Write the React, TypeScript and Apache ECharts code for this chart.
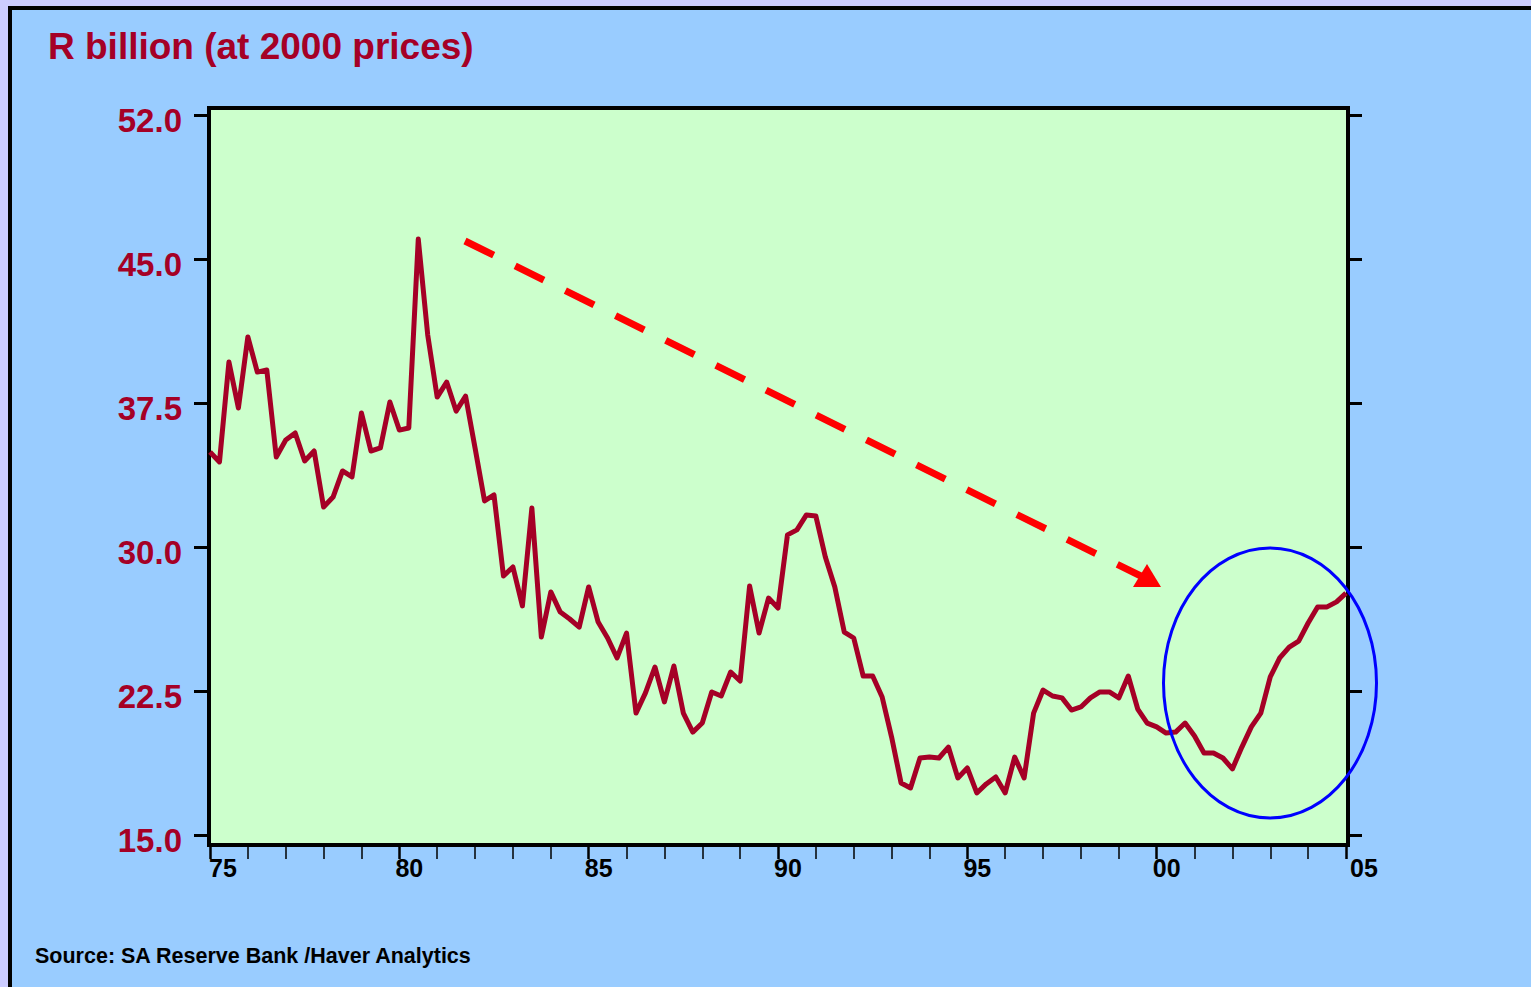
import React, { useEffect, useRef } from 'react';
import * as echarts from 'echarts';

const startYear = 1975;
const quarterStep = 0.25;
// Quarterly values, 1975Q1 .. 2005Q1 (R billion at 2000 prices)
const investment = [
  34.95, 34.43, 39.64, 37.24, 40.94, 39.11, 39.22, 34.69, 35.57, 35.94,
  34.48, 35.0, 32.08, 32.6, 33.96, 33.65, 36.98, 35.0, 35.16, 37.55,
  36.09, 36.2, 46.04, 41.04, 37.81, 38.59, 37.08, 37.86, 35.16, 32.4,
  32.71, 28.49, 28.96, 26.93, 32.03, 25.31, 27.66, 26.61, 26.25, 25.83,
  27.92, 26.09, 25.26, 24.22, 25.52, 21.35, 22.4, 23.75, 21.93, 23.8,
  21.35, 20.36, 20.83, 22.45, 22.24, 23.49, 23.02, 27.97, 25.52, 27.34,
  26.82, 30.63, 30.89, 31.67, 31.61, 29.48, 27.92, 25.57, 25.26, 23.28,
  23.28, 22.19, 20.1, 17.71, 17.45, 19.01, 19.06, 19.01, 19.58, 17.97,
  18.49, 17.19, 17.66, 18.02, 17.19, 19.06, 17.97, 21.35, 22.55, 22.24,
  22.14, 21.51, 21.67, 22.14, 22.45, 22.45, 22.14, 23.28, 21.56, 20.83,
  20.63, 20.31, 20.36, 20.83, 20.16, 19.27, 19.27, 19.01, 18.44, 19.58,
  20.63, 21.35, 23.23, 24.22, 24.79, 25.1, 26.04, 26.88, 26.88, 27.14,
  27.6,
];

const yTickValues = [15, 22.5, 30, 37.5, 45, 52.5];
const yTickLabels = ['15.0', '22.5', '30.0', '37.5', '45.0', '52.0'];
const xTickYears = [1975, 1980, 1985, 1990, 1995, 2000, 2005];
const xTickLabels = ['75', '80', '85', '90', '95', '00', '05'];
const titleText = 'R billion (at 2000 prices)';
const sourceText = 'Source: SA Reserve Bank /Haver Analytics';

const FONT = '"Liberation Sans", Arial, Helvetica, sans-serif';
const CRIMSON = '#a50026';

export default function App() {
  const ref = useRef<HTMLDivElement>(null);
  useEffect(() => {
    const chart = echarts.init(ref.current!, null, { renderer: 'svg' });
    const data = investment.map((v, i) => [startYear + i * quarterStep, v]);

    const yFmt = (v: number) => {
      const k = yTickValues.findIndex((t) => Math.abs(t - v) < 1e-6);
      return k >= 0 ? yTickLabels[k] : '';
    };
    const xFmt = (v: number) => {
      const k = xTickYears.findIndex((t) => Math.abs(t - v) < 1e-6);
      if (k < 0) return '';
      if (k === 0) return '{first|' + xTickLabels[k] + '}';
      if (k === xTickYears.length - 1) return '{last|' + xTickLabels[k] + '}';
      return '{mid|' + xTickLabels[k] + '}';
    };

    const xRich = {
      fontSize: 25,
      fontWeight: 'bold',
      color: '#000',
      fontFamily: FONT,
    };

    const yAxisBase = {
      type: 'value',
      min: yTickValues[0],
      max: yTickValues[yTickValues.length - 1],
      interval: 7.5,
      axisLine: { show: false },
      axisTick: { show: true, length: 16, lineStyle: { color: '#000', width: 3 } },
      splitLine: { show: false },
    };

    chart.setOption({
      animation: false,
      backgroundColor: '#ccccff',
      grid: { left: 210, right: 185, top: 115, bottom: 152, containLabel: false },
      xAxis: {
        type: 'value',
        min: 1975,
        max: 2005,
        interval: 5,
        offset: 10,
        axisLine: { show: false },
        axisTick: { show: true, length: 14, lineStyle: { color: '#000', width: 2.5 } },
        minorTick: { show: true, splitNumber: 5, length: 14, lineStyle: { color: '#000', width: 1.5 } },
        splitLine: { show: false },
        minorSplitLine: { show: false },
        axisLabel: {
          formatter: xFmt,
          margin: 10,
          fontSize: 25,
          fontWeight: 'bold',
          color: '#000',
          fontFamily: FONT,
          rich: {
            first: { ...xRich, padding: [0, 0, 0, 26] },
            mid: { ...xRich, padding: [0, 0, 0, 20] },
            last: { ...xRich, padding: [0, 0, 0, 36] },
          },
        },
      },
      yAxis: [
        {
          ...yAxisBase,
          position: 'left',
          axisLabel: {
            formatter: yFmt,
            margin: 28,
            fontSize: 33,
            fontWeight: 'bold',
            color: CRIMSON,
            fontFamily: FONT,
            verticalAlign: 'top',
            lineHeight: 10,
          },
        },
        {
          ...yAxisBase,
          position: 'right',
          axisLabel: { show: false },
        },
      ],
      series: [
        {
          type: 'line',
          data,
          symbol: 'none',
          showSymbol: false,
          lineStyle: { color: CRIMSON, width: 5, join: 'round' },
          z: 5,
        },
      ],
      graphic: [
        {
          type: 'rect',
          z: -10,
          shape: { x: 10, y: 8, width: 1600, height: 1100 },
          style: { fill: '#99ccff', stroke: '#000', lineWidth: 4 },
        },
        {
          type: 'rect',
          z: -5,
          shape: { x: 209, y: 108, width: 1139, height: 737 },
          style: { fill: '#ccffcc', stroke: '#000', lineWidth: 4 },
        },
        {
          type: 'text',
          z: 10,
          x: 48,
          y: 46,
          style: {
            text: titleText,
            font: `bold 37px ${FONT}`,
            fill: CRIMSON,
            textAlign: 'left',
            textVerticalAlign: 'middle',
          },
        },
        {
          type: 'text',
          z: 10,
          x: 35,
          y: 956,
          style: {
            text: sourceText,
            font: `bold 21.5px ${FONT}`,
            fill: '#000',
            textAlign: 'left',
            textVerticalAlign: 'middle',
          },
        },
        {
          type: 'line',
          z: 20,
          shape: { x1: 465, y1: 241, x2: 1150, y2: 580.5 },
          style: { stroke: '#ff0000', lineWidth: 7, lineDash: [32, 24] },
        },
        {
          type: 'polygon',
          z: 20,
          shape: { points: [[1161, 587], [1133, 587], [1147, 564]] },
          style: { fill: '#ff0000' },
        },
        {
          type: 'ellipse',
          z: 20,
          shape: { cx: 1270, cy: 683, rx: 106.5, ry: 135 },
          style: { fill: 'none', stroke: '#0000ff', lineWidth: 3 },
        },
      ],
    });
    return () => chart.dispose();
  }, []);
  return (
    <div
      ref={ref}
      style={{ position: 'absolute', left: 0, top: 0, width: 1531, height: 987 }}
    />
  );
}
